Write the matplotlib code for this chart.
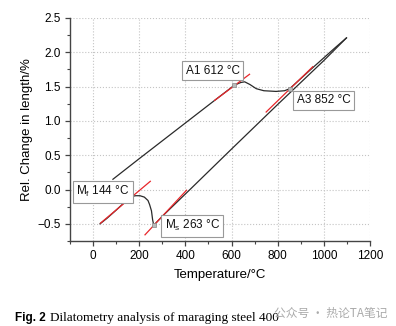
import numpy as np
import matplotlib.pyplot as plt
from matplotlib.ticker import MultipleLocator

# heating curve (temperature in C, change in length in %)
heat_T = [86, 200, 300, 400, 500, 612, 640, 657, 680, 707, 740, 793, 830, 852, 950, 1050, 1098]
heat_L = [0.15, 0.45, 0.71, 0.97, 1.23, 1.52, 1.56, 1.57, 1.53, 1.47, 1.44, 1.43, 1.44, 1.47, 1.77, 2.07, 2.21]

# cooling curve
cool_T = [1098, 1000, 800, 600, 426, 300, 263, 258, 253, 245, 238, 222, 203, 185, 167, 145, 100, 60, 30]
cool_L = [2.21, 1.88, 1.24, 0.59, 0.02, -0.39, -0.52, -0.44, -0.31, -0.22, -0.16, -0.11, -0.09, -0.09, -0.10, -0.16, -0.30, -0.42, -0.50]

# tangent lines (start/end)
tangents = {
    'Mf': ([32, 248], [-0.49, 0.12]),
    'Ms': ([225, 405], [-0.66, -0.01]),
    'A1': ([527, 678], [1.30, 1.68]),
    'A3': ([750, 952], [1.13, 1.79]),
}

# transition points and labels
point_T = [144, 263, 612, 852]
point_L = [-0.16, -0.52, 1.52, 1.47]
labels = ['M$_\\mathregular{f}$ 144 °C', 'M$_\\mathregular{s}$ 263 °C', 'A1 612 °C', 'A3 852 °C']
label_pos = [(42, -0.03), (430, -0.53), (518, 1.73), (998, 1.30)]

plt.rcParams['font.family'] = ['Liberation Sans', 'DejaVu Sans']
plt.rcParams['mathtext.fontset'] = 'custom'
plt.rcParams['mathtext.rm'] = 'Liberation Sans'

fig = plt.figure(figsize=(3.96, 3.26), dpi=100)
ax = fig.add_axes([70 / 396, 1 - 241 / 326, 300 / 396, 223 / 326])

for name, (tx, ty) in tangents.items():
    ax.plot(tx, ty, color='#e8262a', lw=0.9, zorder=3)
ax.plot(heat_T, heat_L, color='#2a2a2a', lw=0.9, zorder=2)
ax.plot(cool_T, cool_L, color='#2a2a2a', lw=0.9, zorder=2)
ax.plot(point_T, point_L, ls='none', marker='s', ms=3, mfc='#bbbbbb', mec='#888888', mew=0.5, zorder=4)

for text, (x, y) in zip(labels, label_pos):
    ax.text(x, y, text, ha='center', va='center', fontsize=8.5, color='#111111',
            bbox=dict(boxstyle='square,pad=0.3', fc='white', ec='#999999', lw=0.8), zorder=5)

ax.set_xlim(-100, 1200)
ax.set_ylim(-0.75, 2.5)
ax.xaxis.set_minor_locator(MultipleLocator(100))
ax.yaxis.set_major_locator(MultipleLocator(0.5))
ax.yaxis.set_minor_locator(MultipleLocator(0.25))
ax.set_xticks([0, 200, 400, 600, 800, 1000, 1200])
ax.yaxis.set_major_formatter(plt.FuncFormatter(lambda v, p: f'{v:.1f}'.replace('-', '\u2212')))

ax.grid(True, which='major', ls=':', color='#c4c4c4', lw=0.8)
for s in ['top', 'right']:
    ax.spines[s].set_visible(False)
for s in ['left', 'bottom']:
    ax.spines[s].set_color('#444444')
    ax.spines[s].set_linewidth(1.0)
ax.tick_params(which='major', direction='out', length=3.5, width=0.9, color='#444444', labelsize=8.5, pad=3)
ax.tick_params(which='minor', direction='out', length=2, width=0.8, color='#444444')

ax.set_xlabel('Temperature/°C', fontsize=9.5, labelpad=5)
ax.set_ylabel('Rel. Change in length/%', fontsize=9.5, labelpad=3)

fig.text(15 / 396, 1 - 318 / 326, 'Fig. 2', fontsize=8.5, fontweight='bold', va='center', ha='left',
         family=['Liberation Sans', 'DejaVu Sans'])
fig.text(50 / 396, 1 - 318 / 326, 'Dilatometry analysis of maraging steel 400', fontsize=9.5,
         va='center', ha='left', family=['Liberation Serif', 'DejaVu Serif'])
fig.text(388 / 396, 1 - 313 / 326, '公众号 · 热论TA笔记', fontsize=8.5, color='#aaaaaa', va='center', ha='right',
         family=['Noto Sans CJK SC', 'DejaVu Sans'])

fig.savefig('out.png', dpi=100)
